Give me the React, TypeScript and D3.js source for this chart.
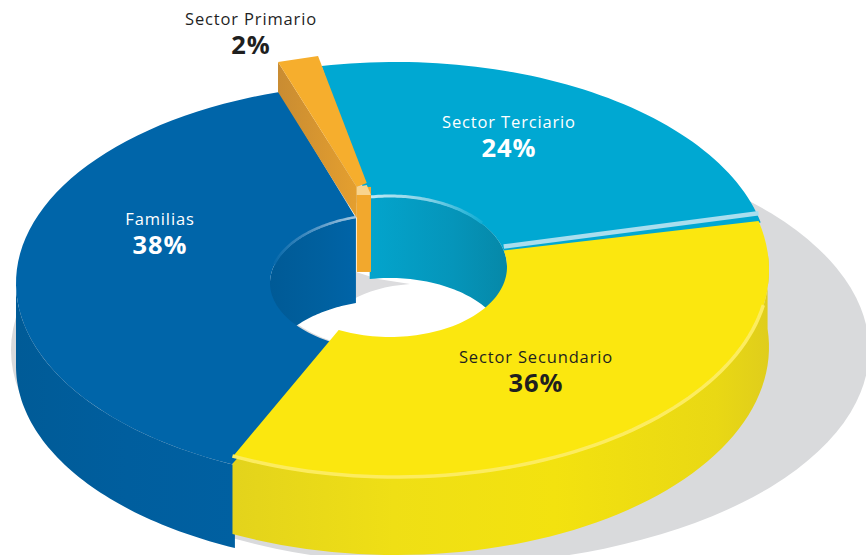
import React from "react";
import * as d3 from "d3";

const categories = ["Sector Terciario", "Sector Secundario", "Familias", "Sector Primario"];
const shares = [24, 36, 38, 2];
const shareLabels = ["24%", "36%", "38%", "2%"];

type Ell = { cx: number; cy: number; rx: number; ry: number };
type Pt = [number, number];
const W = 866, H = 555;
const deg = Math.PI / 180;

// projected outline of each wedge (each wedge is slightly offset in the artwork)
const geo: Record<string, { outer: Ell; inner: Ell; fill: string }> = {
  "Sector Terciario": { outer: { cx: 396, cy: 265, rx: 373, ry: 203 }, inner: { cx: 390, cy: 267, rx: 117, ry: 70 }, fill: "#00a8d2" },
  "Sector Secundario": { outer: { cx: 396, cy: 270, rx: 373, ry: 208 }, inner: { cx: 390, cy: 267, rx: 117, ry: 70 }, fill: "#fbe70f" },
  "Familias": { outer: { cx: 390, cy: 283, rx: 374, ry: 200 }, inner: { cx: 392, cy: 283, rx: 122, ry: 68 }, fill: "#0065a9" },
  "Sector Primario": { outer: { cx: 375, cy: 253, rx: 328, ry: 200 }, inner: { cx: 381, cy: 314, rx: 82, ry: 133 }, fill: "#f6ae2d" },
};
const labelPos: Record<string, { x: number; y: number; color: string }> = {
  "Sector Terciario": { x: 509, y: 128, color: "#ffffff" },
  "Sector Secundario": { x: 536, y: 363, color: "#1f1f1f" },
  "Familias": { x: 160, y: 225, color: "#ffffff" },
  "Sector Primario": { x: 251, y: 25, color: "#1f1f1f" },
};

const pie = d3.pie<number>().sort(null).value((d) => d).startAngle(-10 * deg).endAngle(350 * deg);
const arcs = pie(shares);
const arcOf = (name: string) => arcs[categories.indexOf(name)];

const pt = (e: Ell, t: number, dy = 0): Pt => [e.cx + e.rx * Math.sin(t), e.cy - e.ry * Math.cos(t) + dy];
const sweep = (e: Ell, t0: number, t1: number, dy = 0): Pt[] =>
  d3.range(61).map((i) => pt(e, t0 + ((t1 - t0) * i) / 60, dy));
const line = d3.line<Pt>();
const closed = (p: Pt[]) => line(p) + "Z";

const ringPath = (g: { outer: Ell; inner: Ell }, t0: number, t1: number) =>
  closed([...sweep(g.outer, t0, t1), ...sweep(g.inner, t1, t0)]);
const bandPath = (e: Ell, t0: number, t1: number, h: number) =>
  closed([...sweep(e, t0, t1), ...sweep(e, t1, t0, h)]);

export default function App() {
  const cy = geo["Sector Terciario"], ye = geo["Sector Secundario"], bl = geo["Familias"], or = geo["Sector Primario"];
  const ac = arcOf("Sector Terciario"), ay = arcOf("Sector Secundario"), ab = arcOf("Familias"), ao = arcOf("Sector Primario");

  const oo0 = pt(or.outer, ao.startAngle), oo1 = pt(or.outer, ao.endAngle);
  const oi0 = pt(or.inner, ao.startAngle), oi1 = pt(or.inner, ao.endAngle);
  const oSideH = 31;
  const stripA = pt(cy.outer, ac.endAngle, -4), stripB = pt(cy.inner, ac.endAngle, -4);

  return (
    <svg width={W} height={H} viewBox={`0 0 ${W} ${H}`} style={{ position: "absolute", left: 0, top: 0, display: "block", background: "#fff" }}>
      <defs>
        <linearGradient id="ySide" gradientUnits="userSpaceOnUse" x1={232} x2={770} y1={0} y2={0}>
          <stop offset="0" stopColor="#e3d31c" />
          <stop offset="0.3" stopColor="#efdf15" />
          <stop offset="0.6" stopColor="#f3e20f" />
          <stop offset="0.9" stopColor="#e9d814" />
          <stop offset="1" stopColor="#dfcd1c" />
        </linearGradient>
        <linearGradient id="bSide" gradientUnits="userSpaceOnUse" x1={16} x2={235} y1={0} y2={0}>
          <stop offset="0" stopColor="#005b97" />
          <stop offset="0.5" stopColor="#005e9e" />
          <stop offset="1" stopColor="#0060a1" />
        </linearGradient>
        <linearGradient id="cWall" gradientUnits="userSpaceOnUse" x1={371} x2={507} y1={0} y2={0}>
          <stop offset="0" stopColor="#03a4cc" />
          <stop offset="0.6" stopColor="#0595ba" />
          <stop offset="1" stopColor="#0688a8" />
        </linearGradient>
        <linearGradient id="bWall" gradientUnits="userSpaceOnUse" x1={270} x2={357} y1={0} y2={0}>
          <stop offset="0" stopColor="#005a96" />
          <stop offset="0.6" stopColor="#00609f" />
          <stop offset="1" stopColor="#0064a8" />
        </linearGradient>
        <linearGradient id="oSide" gradientUnits="userSpaceOnUse" x1={278} x2={357} y1={0} y2={0}>
          <stop offset="0" stopColor="#c98c32" />
          <stop offset="1" stopColor="#e49f2f" />
        </linearGradient>
        <linearGradient id="cRim" gradientUnits="userSpaceOnUse" x1={371} x2={490} y1={0} y2={0}>
          <stop offset="0" stopColor="#bfe8f3" />
          <stop offset="0.5" stopColor="#7fd0e6" />
          <stop offset="1" stopColor="#00a8d2" />
        </linearGradient>
        <linearGradient id="bRim" gradientUnits="userSpaceOnUse" x1={270} x2={357} y1={0} y2={0}>
          <stop offset="0" stopColor="#0065a9" />
          <stop offset="0.5" stopColor="#4f93c4" />
          <stop offset="1" stopColor="#a8c9e2" />
        </linearGradient>
      </defs>

      {/* cast shadow */}
      <ellipse cx={440} cy={350} rx={429} ry={215} fill="#d9dadc" />
      {/* the opening through the ring */}
      <ellipse cx={388} cy={275} rx={120} ry={75} fill="#ffffff" />
      <path d="M356,272 L378,279 L410,284 C385,286 368,291 352,300 Z" fill="#dcdcde" />

      {/* outer sides */}
      <path d={bandPath(bl.outer, 270 * deg, 204.5 * deg, 83)} fill="url(#bSide)" />
      <path d={bandPath(ye.outer, 85 * deg, ay.endAngle, 77)} fill="url(#ySide)" />

      {/* walls of the opening */}
      <path d={bandPath(ye.inner, ac.startAngle, 90 * deg, 81)} fill="url(#cWall)" />
      <path d={bandPath(bl.inner, ab.endAngle, 270 * deg, 85)} fill="url(#bWall)" />

      {/* top faces */}
      <path d={ringPath(cy, ac.startAngle - 1.5 * deg, ac.endAngle + 1.5 * deg)} fill={cy.fill} />
      <path d={ringPath(bl, ab.startAngle - 1 * deg, ab.endAngle)} fill={bl.fill} />
      <path d={ringPath(ye, ay.startAngle, ay.endAngle)} fill={ye.fill} />

      {/* highlights */}
      <path d={line([stripA, stripB])!} stroke="#a9deee" strokeWidth={4.5} fill="none" />
      <path d={line(sweep(ye.outer, 100 * deg, ay.endAngle, -1))!} stroke="#fcec5f" strokeWidth={3.5} fill="none" />
      <path d={line(sweep(cy.inner, ac.startAngle, 52 * deg, -1))!} stroke="url(#cRim)" strokeWidth={3} fill="none" />
      <path d={line(sweep(bl.inner, 285 * deg, ab.endAngle, -1))!} stroke="url(#bRim)" strokeWidth={2.5} fill="none" />

      {/* exploded small wedge */}
      <path d={closed([oo0, oi0, [oi0[0], oi0[1] + oSideH], [oo0[0], oo0[1] + oSideH - 1]])} fill="url(#oSide)" />
      <path d={closed([oo0, oo1, oi1, oi0])} fill={or.fill} />
      <rect x={oi0[0]} y={oi0[1]} width={371 - oi0[0]} height={85} fill="#f2a82d" />
      <path d={closed([[oi0[0], oi0[1] + 8], oi0, [oi1[0], oi1[1] + 2], [371, oi0[1] + 8]])} fill="#f9d48d" />

      {/* labels */}
      {categories.map((c, i) => (
        <g key={c} textAnchor="middle" fill={labelPos[c].color}>
          <text x={labelPos[c].x} y={labelPos[c].y} fontFamily="'Open Sans', sans-serif" fontSize={16.5} letterSpacing={0.85}>{c}</text>
          <text x={labelPos[c].x} y={labelPos[c].y + 29} fontFamily="'Open Sans', sans-serif" fontWeight={700} fontSize={25.5} letterSpacing={1}>{shareLabels[i]}</text>
        </g>
      ))}
    </svg>
  );
}
